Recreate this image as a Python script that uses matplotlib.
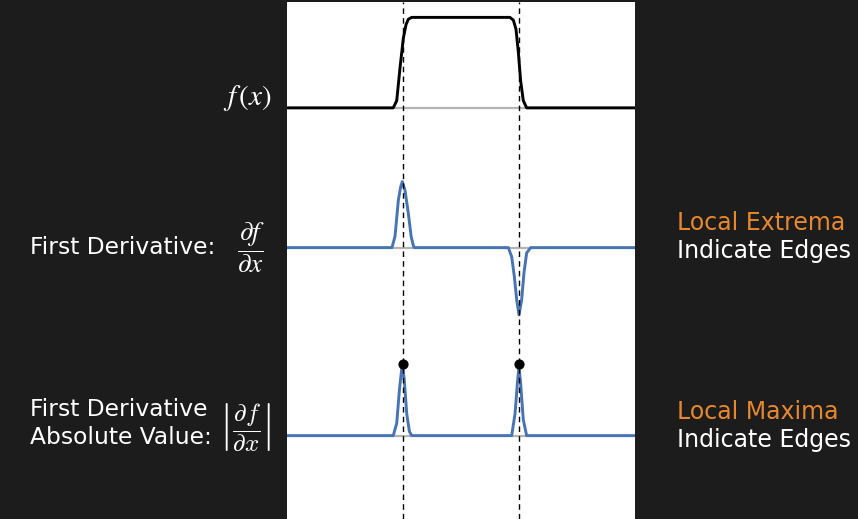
import numpy as np
import matplotlib.pyplot as plt

# edge positions (x units, panel spans 0..3)
edges = [1, 2]

# f(x): smooth box
f_x = [0, 0.916, 0.946, 0.974, 1.003, 1.026, 1.046, 1.075,
       1.922, 1.951, 1.974, 1.994, 2.014, 2.037, 2.066, 3]
f_y = [0, 0, 0.08, 0.44, 0.77, 0.92, 0.98, 1.0,
       1.0, 0.97, 0.87, 0.62, 0.30, 0.08, 0, 0]

# first derivative
df_x = [0, 0.905, 0.931, 0.960, 0.980, 0.994, 1.017, 1.046, 1.070, 1.092, 1.101,
        1.908, 1.937, 1.960, 1.980, 2.0, 2.023, 2.043, 2.066, 2.101, 3]
df_y = [0, 0, 0.17, 0.72, 0.92, 1.0, 0.87, 0.52, 0.17, 0.01, 0,
        0, -0.14, -0.44, -0.79, -1.02, -0.79, -0.38, -0.08, 0, 0]

# absolute value of first derivative
abs_x = [0, 0.916, 0.946, 0.969, 0.989, 0.997, 1.011, 1.032, 1.055, 1.075,
         1.937, 1.966, 1.986, 2.0, 2.014, 2.037, 2.066, 3]
abs_y = [0, 0, 0.18, 0.66, 0.97, 1.0, 0.81, 0.32, 0.06, 0,
         0, 0.32, 0.76, 1.0, 0.76, 0.23, 0, 0]
peak_y = [1.04, 1.04]

W, H = 858, 519
bg = '#1c1c1c'
blue = '#4674b4'
orange = '#e8882e'
grey = '#b4b4b4'

plt.rcParams['mathtext.fontset'] = 'stix'

fig = plt.figure(figsize=(W / 100, H / 100), dpi=100, facecolor=bg)


def px_axes(x0, y0, x1, y1):
    return fig.add_axes([x0 / W, 1 - y1 / H, (x1 - x0) / W, (y1 - y0) / H])


left, right = 287, 635

# white panel behind everything
panel = px_axes(left, 2, right, H)
panel.set_facecolor('white')
panel.set_xticks([])
panel.set_yticks([])
for s in panel.spines.values():
    s.set_visible(False)

rows = [
    (f_x, f_y, 'black', (2, 173), (-0.72, 1.17)),
    (df_x, df_y, blue, (173, 346), (-1.49, 1.13)),
    (abs_x, abs_y, blue, (346, 519), (-1.21, 1.30)),
]
axs = []
for xs, ys, col, (t, b), ylim in rows:
    ax = px_axes(left, t, right, b)
    ax.patch.set_alpha(0)
    ax.axhline(0, color=grey, lw=1.6, zorder=1)
    ax.plot(xs, ys, color=col, lw=2.1, solid_joinstyle='round', zorder=3)
    ax.set_xlim(0, 3)
    ax.set_ylim(*ylim)
    ax.axis('off')
    axs.append(ax)

axs[2].scatter(edges, peak_y, s=40, color='black', zorder=5)

# dashed edge lines across whole panel
over = px_axes(left, 2, right, H)
over.patch.set_alpha(0)
over.set_xlim(0, 3)
for e in edges:
    over.axvline(e, color='black', ls=(0, (4, 3)), lw=1.0)
over.axis('off')


def ft(px, py, s, **kw):
    fig.text(px / W, 1 - py / H, s, **kw)


ft(272, 98, r'$f\,(x)$', color='white', fontsize=21, ha='right', va='center')
ft(30, 247, 'First Derivative:', color='white', fontsize=16.8, ha='left', va='center')
ft(251, 248, r'$\dfrac{\partial f}{\partial x}$', color='white', fontsize=19.5,
   ha='center', va='center')
ft(30, 410, 'First Derivative', color='white', fontsize=16.8, ha='left', va='center')
ft(30, 438, 'Absolute Value:', color='white', fontsize=16.8, ha='left', va='center')
ft(245, 427, r'$\left|\dfrac{\partial f}{\partial x}\right|$', color='white', fontsize=18,
   ha='center', va='center', math_fontfamily='cm')

ft(677, 223, 'Local Extrema', color=orange, fontsize=17, ha='left', va='center')
ft(677, 251, 'Indicate Edges', color='white', fontsize=17, ha='left', va='center')
ft(677, 412, 'Local Maxima', color=orange, fontsize=17, ha='left', va='center')
ft(677, 440, 'Indicate Edges', color='white', fontsize=17, ha='left', va='center')

fig.savefig('out.png', dpi=100, facecolor=bg)
